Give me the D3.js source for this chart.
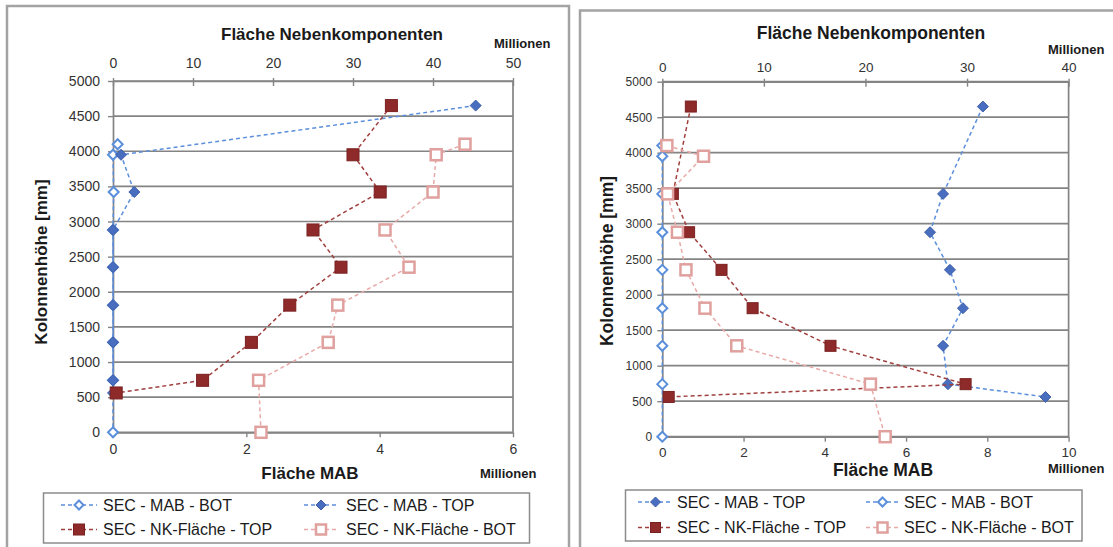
<!DOCTYPE html>
<html>
<head>
<meta charset="utf-8">
<script src="https://cdn.jsdelivr.net/npm/d3@7"></script>
<style>
  body { margin: 0; background: #fff; }
  svg { display: block; font-family: "Liberation Sans", Arial, sans-serif; }
</style>
</head>
<body>
<svg id="chart" width="1113" height="547"></svg>
<script>
// DATEN (Werte in Millionen, Höhe in mm)
var hoeheTopLinks = [4650, 3950, 3420, 2880, 2350, 1810, 1280, 740, 560];
var hoeheTopRechts = [4650, 3420, 2880, 2350, 1810, 1280, 740, 560];
var hoeheBot = [4100, 3950, 3420, 2880, 2350, 1810, 1280, 740, 0];

var mabTopLinks = [5.44, 0.12, 0.32, 0, 0, 0, 0, 0, 0];
var mabBotLinks = [0.07, 0, 0.01, 0, 0, 0, 0, 0, 0];
var nkTopLinks = [34.8, 30.0, 33.4, 25.0, 28.5, 22.1, 17.3, 11.2, 0.4];
var nkBotLinks = [44.0, 40.4, 40.0, 34.0, 37.0, 28.1, 26.9, 18.2, 18.5];

var mabTopRechts = [7.89, 6.91, 6.59, 7.08, 7.40, 6.91, 7.03, 9.43];
var mabBotRechts = [0, 0, 0, 0, 0, 0, 0, 0, 0];
var nkTopRechts = [2.81, 1.04, 2.64, 5.83, 8.89, 16.56, 29.86, 0.63];
var nkBotRechts = [0.45, 4.06, 0.52, 1.49, 2.33, 4.2, 7.33, 20.49, 21.94];

var yTicks = [0, 500, 1000, 1500, 2000, 2500, 3000, 3500, 4000, 4500, 5000];
var topTicksLinks = [0, 10, 20, 30, 40, 50];
var bottomTicksLinks = [0, 2, 4, 6];
var topTicksRechts = [0, 10, 20, 30, 40];
var bottomTicksRechts = [0, 2, 4, 6, 8, 10];

// FARBEN
var blau = "#4a6ebf";
var blauLinie = "#5b8fdb";
var rot = "#8e2a2a";
var rotLinie = "#a0403e";
var rosa = "#e0a09e";
var rosaLinie = "#e8aaa8";
var grid = "#848484";

var svg = d3.select("#chart");
var plain = function(d) { return String(d); };

function zip(h, v) {
    return h.map(function(d, i) { return {h: d, v: v[i]}; });
}

function marker(g, typ, x, y, s) {
    if (typ === "diamondFilled" || typ === "diamondOpen") {
        var r = s / 2;
        g.append("path")
            .attr("d", "M" + x + "," + (y - r) + "L" + (x + r) + "," + y + "L" + x + "," + (y + r) + "L" + (x - r) + "," + y + "Z")
            .attr("fill", typ === "diamondFilled" ? blau : "#fff")
            .attr("stroke", typ === "diamondFilled" ? "#3e5fa8" : blauLinie)
            .attr("stroke-width", typ === "diamondFilled" ? 1 : 2);
    } else {
        var a = s;
        g.append("rect")
            .attr("x", x - a / 2).attr("y", y - a / 2)
            .attr("width", a).attr("height", a)
            .attr("fill", typ === "squareFilled" ? rot : "#fff")
            .attr("stroke", typ === "squareFilled" ? "#7a2020" : rosa)
            .attr("stroke-width", typ === "squareFilled" ? 1 : 2.5);
    }
}

function zeichneDiagramm(cfg) {
    var g = svg.append("g");

    // rahmen
    g.append("rect")
        .attr("x", cfg.frame[0]).attr("y", cfg.frame[1])
        .attr("width", cfg.frame[2]).attr("height", cfg.frame[3])
        .attr("fill", "#fff").attr("stroke", "#a3a3a3").attr("stroke-width", 2.5);

    var y = d3.scaleLinear().domain([0, 5000]).range([cfg.bottom, cfg.top]);
    var xTop = d3.scaleLinear().domain(cfg.topDomain).range([cfg.left, cfg.right]);
    var xBot = d3.scaleLinear().domain(cfg.botDomain).range([cfg.left, cfg.right]);

    // gitterlinien
    g.append("g").selectAll("line").data(yTicks).join("line")
        .attr("x1", cfg.left).attr("x2", cfg.right)
        .attr("y1", function(d) { return y(d); }).attr("y2", function(d) { return y(d); })
        .attr("stroke", grid).attr("stroke-width", 1.7);
    g.append("line")
        .attr("x1", cfg.right).attr("x2", cfg.right).attr("y1", cfg.top).attr("y2", cfg.bottom)
        .attr("stroke", grid).attr("stroke-width", 1.7);

    // achsen
    var ay = g.append("g").attr("transform", "translate(" + cfg.left + ",0)")
        .call(d3.axisLeft(y).tickValues(yTicks).tickFormat(plain).tickSize(5).tickSizeOuter(0).tickPadding(cfg.yPad));
    var at = g.append("g").attr("transform", "translate(0," + cfg.top + ")")
        .call(d3.axisTop(xTop).tickValues(cfg.topTicks).tickFormat(plain).tickSize(3).tickSizeOuter(0).tickPadding(cfg.topPad));
    at.selectAll(".tick line").attr("y1", 5);
    var ab = g.append("g").attr("transform", "translate(0," + cfg.bottom + ")")
        .call(d3.axisBottom(xBot).tickValues(cfg.botTicks).tickFormat(plain).tickSize(5).tickSizeOuter(0).tickPadding(cfg.botPad));

    [ay, at, ab].forEach(function(a) {
        a.selectAll(".domain").attr("stroke", grid).attr("stroke-width", 1.7);
        a.selectAll(".tick line").attr("stroke", grid).attr("stroke-width", 1.4);
        a.selectAll("text").attr("fill", "#333").attr("font-family", "Liberation Sans, Arial, sans-serif");
    });
    ay.selectAll("text").attr("font-size", cfg.yFont);
    at.selectAll("text").attr("font-size", cfg.xFont);
    ab.selectAll("text").attr("font-size", cfg.xFont);

    // titel
    g.append("text").attr("x", cfg.topTitle[0]).attr("y", cfg.topTitle[1])
        .attr("text-anchor", "middle").attr("font-weight", "bold").attr("font-size", cfg.titleFont)
        .attr("fill", "#1a1a1a").text("Fläche Nebenkomponenten");
    g.append("text").attr("x", cfg.botTitle[0]).attr("y", cfg.botTitle[1])
        .attr("text-anchor", "middle").attr("font-weight", "bold").attr("font-size", cfg.titleFont)
        .attr("fill", "#1a1a1a").text("Fläche MAB");
    g.append("text")
        .attr("transform", "translate(" + cfg.yTitle[0] + "," + cfg.yTitle[1] + ") rotate(-90)")
        .attr("text-anchor", "middle").attr("dy", "0.35em").attr("font-weight", "bold").attr("font-size", cfg.titleFont)
        .attr("fill", "#1a1a1a").text("Kolonnenhöhe [mm]");
    g.append("text").attr("x", cfg.milTop[0]).attr("y", cfg.milTop[1])
        .attr("font-weight", "bold").attr("font-size", 13).attr("fill", "#1a1a1a").text("Millionen");
    g.append("text").attr("x", cfg.milBot[0]).attr("y", cfg.milBot[1])
        .attr("font-weight", "bold").attr("font-size", 13).attr("fill", "#1a1a1a").text("Millionen");

    // reihen
    cfg.series.forEach(function(s) {
        var x = s.axis === "top" ? xTop : xBot;
        var pts = zip(s.hoehe, s.werte);
        var line = d3.line().x(function(d) { return x(d.v); }).y(function(d) { return y(d.h); });
        g.append("path").datum(pts).attr("d", line)
            .attr("fill", "none").attr("stroke", s.linie).attr("stroke-width", 1.5)
            .attr("stroke-dasharray", "4,3");
        pts.forEach(function(d) { marker(g, s.typ, x(d.v), y(d.h), s.size); });
    });

    // legende
    var lg = cfg.legend;
    g.append("rect").attr("x", lg.box[0]).attr("y", lg.box[1]).attr("width", lg.box[2]).attr("height", lg.box[3])
        .attr("fill", "#fff").attr("stroke", "#8c8c8c").attr("stroke-width", 1.5);
    lg.items.forEach(function(it) {
        var s = cfg.series[it.idx];
        var ly = lg.rows[it.row];
        var col = lg.cols[it.col];
        g.append("line").attr("x1", col[0]).attr("x2", col[1]).attr("y1", ly).attr("y2", ly)
            .attr("stroke", s.linie).attr("stroke-width", 1.5).attr("stroke-dasharray", "4,3");
        marker(g, s.typ, (col[0] + col[1]) / 2, ly, s.size - 1);
        g.append("text").attr("x", col[2]).attr("y", ly).attr("dy", "0.36em")
            .attr("font-size", 16).attr("fill", "#1a1a1a").text(s.name);
    });
}

// LINKES DIAGRAMM
zeichneDiagramm({
    frame: [7, 6, 562, 560],
    left: 113, right: 513, top: 81, bottom: 432.3,
    topDomain: [0, 50], botDomain: [0, 6],
    topTicks: topTicksLinks, botTicks: bottomTicksLinks,
    yPad: 8, topPad: 10, botPad: 7,
    yFont: 14, xFont: 14, titleFont: 17,
    topTitle: [332, 40], botTitle: [310, 479], yTitle: [41, 262],
    milTop: [494, 48], milBot: [480, 478],
    series: [
        {name: "SEC - MAB - BOT", hoehe: hoeheBot, werte: mabBotLinks, axis: "bottom", typ: "diamondOpen", linie: blauLinie, size: 10},
        {name: "SEC - MAB - TOP", hoehe: hoeheTopLinks, werte: mabTopLinks, axis: "bottom", typ: "diamondFilled", linie: blauLinie, size: 11},
        {name: "SEC - NK-Fläche - TOP", hoehe: hoeheTopLinks, werte: nkTopLinks, axis: "top", typ: "squareFilled", linie: rotLinie, size: 12},
        {name: "SEC - NK-Fläche - BOT", hoehe: hoeheBot, werte: nkBotLinks, axis: "top", typ: "squareOpen", linie: rosaLinie, size: 11}
    ],
    legend: {
        box: [43.5, 493, 486, 50],
        rows: [505, 529.5],
        cols: [[61, 97, 103], [304, 338, 346]],
        items: [{idx: 0, row: 0, col: 0}, {idx: 1, row: 0, col: 1}, {idx: 2, row: 1, col: 0}, {idx: 3, row: 1, col: 1}]
    }
});

// RECHTES DIAGRAMM
zeichneDiagramm({
    frame: [580, 10.5, 560, 560],
    left: 662.3, right: 1068.6, top: 81.7, bottom: 436.7,
    topDomain: [0, 40], botDomain: [0, 10],
    topTicks: topTicksRechts, botTicks: bottomTicksRechts,
    yPad: 5, topPad: 7, botPad: 6,
    yFont: 12, xFont: 13.5, titleFont: 17.5,
    topTitle: [871, 39], botTitle: [883, 476], yTitle: [607, 261],
    milTop: [1048, 54], milBot: [1048, 473],
    series: [
        {name: "SEC - MAB - TOP", hoehe: hoeheTopRechts, werte: mabTopRechts, axis: "bottom", typ: "diamondFilled", linie: blauLinie, size: 11},
        {name: "SEC - MAB - BOT", hoehe: hoeheBot, werte: mabBotRechts, axis: "bottom", typ: "diamondOpen", linie: blauLinie, size: 10},
        {name: "SEC - NK-Fläche - TOP", hoehe: hoeheTopRechts, werte: nkTopRechts, axis: "top", typ: "squareFilled", linie: rotLinie, size: 11},
        {name: "SEC - NK-Fläche - BOT", hoehe: hoeheBot, werte: nkBotRechts, axis: "top", typ: "squareOpen", linie: rosaLinie, size: 11}
    ],
    legend: {
        box: [625.5, 490, 456.5, 51],
        rows: [502, 527.5],
        cols: [[638, 673, 677], [866, 899, 904]],
        items: [{idx: 0, row: 0, col: 0}, {idx: 1, row: 0, col: 1}, {idx: 2, row: 1, col: 0}, {idx: 3, row: 1, col: 1}]
    }
});
</script>
</body>
</html>
